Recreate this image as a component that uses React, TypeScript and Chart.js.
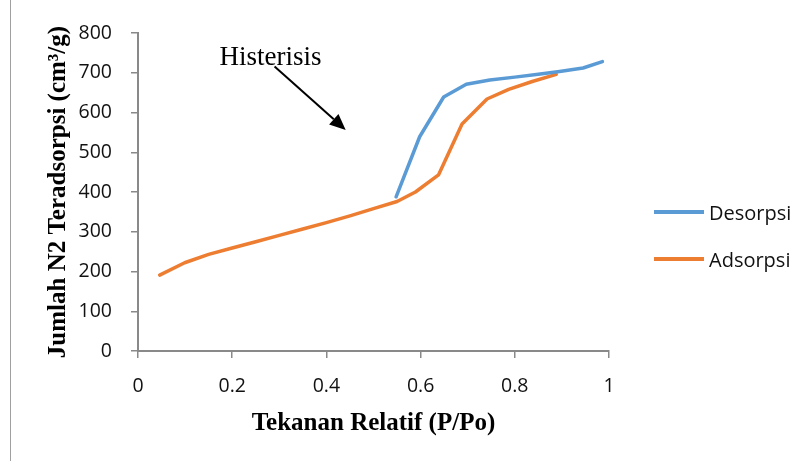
import React, { useEffect, useRef } from "react";
import { Chart, registerables } from "chart.js";

Chart.register(...registerables);

// ---- Data ----
const desorpsiLabel = "Desorpsi";
const desorpsiX = [0.548, 0.598, 0.649, 0.697, 0.747, 0.8, 0.85, 0.895, 0.945, 0.986];
const desorpsiY = [388, 539, 639, 671, 682, 689, 696, 703, 712, 728];

const adsorpsiLabel = "Adsorpsi";
const adsorpsiX = [0.046, 0.099, 0.15, 0.2, 0.25, 0.3, 0.35, 0.4, 0.45, 0.5, 0.55, 0.589, 0.638, 0.688, 0.741, 0.787, 0.837, 0.888];
const adsorpsiY = [191, 222, 243, 259, 275, 291, 307, 323, 340, 358, 376, 400, 443, 571, 634, 658, 678, 696];

const xTitle = "Tekanan Relatif (P/Po)";
const yTitle = "Jumlah N2 Teradsorpsi (cm\u00B3/g)";
const xMin = 0, xMax = 1, xStep = 0.2;
const yMin = 0, yMax = 800, yStep = 100;

const annotationText = "Histerisis";
const annotationTextAt = [0.173, 720];
const arrowFrom = [0.29, 716];
const arrowTo = [0.441, 556];

const BLUE = "#5B9BD5";
const ORANGE = "#ED7D31";
const AXIS = "#898989";
const SANS = "'Open Sans', 'Liberation Sans', sans-serif";
const SERIF = "'Liberation Serif', 'Times New Roman', serif";

const annotationPlugin = {
  id: "histerisisAnnotation",
  afterDatasetsDraw(chart: any) {
    const { ctx, scales } = chart;
    const xs = scales.x, ys = scales.y;
    ctx.save();
    ctx.fillStyle = "#000";
    ctx.font = `27px ${SERIF}`;
    ctx.textBaseline = "alphabetic";
    ctx.textAlign = "left";
    ctx.fillText(annotationText, xs.getPixelForValue(annotationTextAt[0]), ys.getPixelForValue(annotationTextAt[1]));

    const x1 = xs.getPixelForValue(arrowFrom[0]);
    const y1 = ys.getPixelForValue(arrowFrom[1]);
    const x2 = xs.getPixelForValue(arrowTo[0]);
    const y2 = ys.getPixelForValue(arrowTo[1]);
    const ang = Math.atan2(y2 - y1, x2 - x1);
    const headLen = 16;
    const headHalf = 7;
    const bx = x2 - headLen * Math.cos(ang);
    const by = y2 - headLen * Math.sin(ang);
    ctx.strokeStyle = "#000";
    ctx.lineWidth = 2;
    ctx.beginPath();
    ctx.moveTo(x1, y1);
    ctx.lineTo(bx, by);
    ctx.stroke();
    ctx.beginPath();
    ctx.moveTo(x2, y2);
    ctx.lineTo(bx + headHalf * Math.sin(ang), by - headHalf * Math.cos(ang));
    ctx.lineTo(bx - headHalf * Math.sin(ang), by + headHalf * Math.cos(ang));
    ctx.closePath();
    ctx.fill();
    ctx.restore();
  },
};

function App() {
  const canvasRef = useRef<HTMLCanvasElement | null>(null);

  useEffect(() => {
    if (!canvasRef.current) return;
    const chart = new Chart(canvasRef.current, {
      type: "line",
      data: {
        datasets: [
          {
            label: desorpsiLabel,
            data: desorpsiX.map((x, i) => ({ x, y: desorpsiY[i] })),
            borderColor: BLUE,
            backgroundColor: BLUE,
            borderWidth: 3.5,
            pointRadius: 0,
            tension: 0,
            borderCapStyle: "round",
            borderJoinStyle: "round",
          },
          {
            label: adsorpsiLabel,
            data: adsorpsiX.map((x, i) => ({ x, y: adsorpsiY[i] })),
            borderColor: ORANGE,
            backgroundColor: ORANGE,
            borderWidth: 3.5,
            pointRadius: 0,
            tension: 0,
            borderCapStyle: "round",
            borderJoinStyle: "round",
          },
        ],
      },
      options: {
        responsive: false,
        animation: false,
        events: [],
        layout: { padding: { top: 33, right: 200, left: 0, bottom: 0 } },
        plugins: {
          legend: { display: false },
          tooltip: { enabled: false },
        },
        scales: {
          x: {
            type: "linear",
            min: xMin,
            max: xMax,
            afterFit: (scale: any) => { scale.height = 110; },
            afterBuildTicks: (scale: any) => {
              const t = [];
              for (let v = xMin; v <= xMax + 1e-9; v += xStep) t.push({ value: Math.round(v * 10) / 10 });
              scale.ticks = t;
            },
            ticks: {
              color: "#111",
              font: { family: SANS, size: 19.5 },
              padding: 17,
              maxRotation: 0,
              callback: (v: any) => String(Math.round(Number(v) * 10) / 10),
            },
            grid: { display: true, drawOnChartArea: false, drawTicks: true, tickLength: 7, color: AXIS, lineWidth: 1.5 },
            border: { display: true, color: AXIS, width: 2 },
            title: {
              display: true,
              text: xTitle,
              color: "#000",
              font: { family: SERIF, size: 25, weight: "bold" },
              padding: { top: 0, bottom: 22 },
            },
          },
          y: {
            type: "linear",
            min: yMin,
            max: yMax,
            afterFit: (scale: any) => { scale.width = 138; },
            ticks: {
              stepSize: yStep,
              color: "#111",
              font: { family: SANS, size: 19.5 },
              padding: 19,
            },
            grid: { display: true, drawOnChartArea: false, drawTicks: true, tickLength: 7, color: AXIS, lineWidth: 1.5 },
            border: { display: true, color: AXIS, width: 2 },
            title: {
              display: true,
              text: yTitle,
              color: "#000",
              font: { family: SERIF, size: 25, weight: "bold" },
              padding: { top: 44, bottom: 0 },
            },
          },
        },
      },
      plugins: [annotationPlugin],
    } as any);

    const fonts: any = (document as any).fonts;
    if (fonts && fonts.ready) fonts.ready.then(() => chart.update());

    return () => chart.destroy();
  }, []);

  const legendItems = [
    { label: desorpsiLabel, color: BLUE, top: 212 },
    { label: adsorpsiLabel, color: ORANGE, top: 259 },
  ];

  return (
    <div style={{ position: "fixed", left: 0, top: 0, width: 809, height: 461, background: "#fff", overflow: "hidden" }}>
      <div style={{ position: "absolute", left: 10, top: 0, width: 1, height: 461, background: "#a0a0a0" }} />
      <canvas ref={canvasRef} width={809} height={461} style={{ position: "absolute", left: 0, top: 0, width: 809, height: 461 }} />
      {legendItems.map((it) => (
        <div key={it.label} style={{ position: "absolute", left: 654, top: it.top - 15, height: 30, display: "flex", alignItems: "center", fontFamily: SANS, fontSize: 20, color: "#111", whiteSpace: "nowrap" }}>
          <span style={{ display: "inline-block", width: 50, height: 3.5, background: it.color, marginRight: 5 }} />
          <span>{it.label}</span>
        </div>
      ))}
    </div>
  );
}

export default App;
